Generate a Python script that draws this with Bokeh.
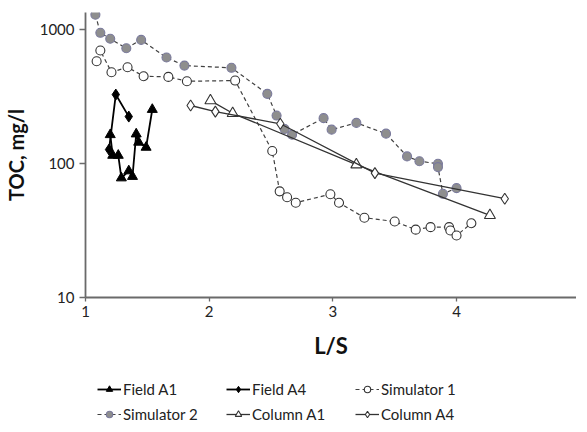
from bokeh.plotting import figure
from bokeh.models import (Range1d, FixedTicker, NumeralTickFormatter, Legend,
                          LegendItem)
from bokeh.layouts import column
from bokeh.embed import file_html
from bokeh.resources import INLINE

# ---- data ----
field_a1_x = [1.20, 1.22, 1.265, 1.29, 1.35, 1.38, 1.41, 1.43, 1.49, 1.54]
field_a1_y = [164, 115, 115, 78, 88, 80, 166, 144, 132, 253]

field_a4_x = [1.19, 1.245, 1.35]
field_a4_y = [127, 327, 224]

sim1_x = [1.09, 1.12, 1.21, 1.34, 1.47, 1.67, 1.82, 2.21, 2.51, 2.57, 2.63,
          2.70, 2.98, 3.05, 3.255, 3.50, 3.67, 3.79, 3.94, 3.95, 4.00, 4.12]
sim1_y = [580, 697, 480, 523, 448, 443, 411, 416, 124, 62, 56,
          51, 59, 51, 39.4, 36.9, 32.1, 33.5, 33.5, 31.6, 29, 35.8]

sim2_x = [1.08, 1.12, 1.20, 1.33, 1.45, 1.655, 1.80, 2.18, 2.47, 2.545, 2.61,
          2.67, 2.925, 2.99, 3.19, 3.43, 3.60, 3.70, 3.85, 3.85, 3.89, 4.00]
sim2_y = [1290, 945, 853, 725, 837, 618, 538, 518, 331, 228, 181,
          164, 218, 179, 201, 167, 113, 104, 99.5, 94, 59.4, 65.5]

col_a1_x = [2.01, 2.19, 3.19, 4.27]
col_a1_y = [295, 237, 98, 41]

col_a4_x = [1.85, 2.05, 2.575, 3.34, 4.39]
col_a4_y = [271, 244, 198, 84.7, 54.6]

x_ticks = [1, 2, 3, 4, 5]
y_ticks = [10, 100, 1000]

FONT = "Lato"
DASH = "4 3"

# name, x, y, line style, marker style (drawing order)
SERIES = [
    ("Simulator 1", sim1_x, sim1_y,
     dict(line_color="#404040", line_width=1.2, line_dash=DASH),
     dict(marker="circle", size=9, fill_color="white", line_color="#333333", line_width=1.1)),
    ("Simulator 2", sim2_x, sim2_y,
     dict(line_color="#404040", line_width=1.2, line_dash=DASH),
     dict(marker="circle", size=9, fill_color="#8e8e8e", line_color="#7a7a9c", line_width=1.1)),
    ("Column A1", col_a1_x, col_a1_y,
     dict(line_color="#333333", line_width=1.3),
     dict(marker="triangle", size=11, fill_color="white", line_color="#333333", line_width=1.1)),
    ("Column A4", col_a4_x, col_a4_y,
     dict(line_color="#333333", line_width=1.3),
     dict(marker="diamond", size=11, fill_color="white", line_color="#333333", line_width=1.1)),
    ("Field A4", field_a4_x, field_a4_y,
     dict(line_color="black", line_width=1.8),
     dict(marker="diamond", size=11, fill_color="black", line_color="black")),
    ("Field A1", field_a1_x, field_a1_y,
     dict(line_color="black", line_width=1.8),
     dict(marker="triangle", size=10, fill_color="black", line_color="black")),
]
LEGEND_ORDER = ["Field A1", "Field A4", "Simulator 1",
                "Simulator 2", "Column A1", "Column A4"]

# ---------------- main chart ----------------
p = figure(frame_width=491, frame_height=285, output_backend="svg",
           toolbar_location=None,
           y_axis_type="log", x_range=Range1d(1, 4.97), y_range=Range1d(10, 1340),
           min_border_left=80, min_border_right=0, min_border_top=12,
           min_border_bottom=0)
p.outline_line_color = None
p.grid.visible = False

for ax in (p.xaxis[0], p.yaxis[0]):
    ax.axis_line_color = "#6a6a6a"
    ax.axis_line_width = 1.8
    ax.major_tick_line_color = "#6a6a6a"
    ax.major_tick_line_width = 1.3
    ax.minor_tick_line_color = None
    ax.major_tick_in = 0
    ax.major_label_text_font = FONT
    ax.major_label_text_font_size = "15px"
    ax.major_label_text_color = "#222222"
    ax.axis_label_text_font = FONT
    ax.axis_label_text_font_style = "bold"
    ax.axis_label_text_color = "#111111"

p.xaxis.ticker = FixedTicker(ticks=x_ticks)
p.xaxis.major_tick_out = 4
p.xaxis.major_label_standoff = 4
p.xaxis.axis_label = "L/S"
p.xaxis.axis_label_text_font_size = "22px"
p.xaxis.axis_label_standoff = 12

p.yaxis.ticker = FixedTicker(ticks=y_ticks, minor_ticks=[])
p.yaxis.formatter = NumeralTickFormatter(format="0")
p.yaxis.major_tick_out = 6
p.yaxis.major_label_standoff = 5
p.yaxis.axis_label = "TOC, mg/l"
p.yaxis.axis_label_text_font_size = "20px"
p.yaxis.axis_label_standoff = 9

for name, xs, ys, lkw, mkw in SERIES:
    p.line(xs, ys, **lkw)
    p.scatter(xs, ys, **mkw)

# ---------------- legend strip ----------------
lf = figure(width=571, height=62, output_backend="svg", toolbar_location=None,
            x_axis_location=None, y_axis_location=None,
            x_range=Range1d(100, 101), y_range=Range1d(-20, -10),
            min_border=0)
lf.outline_line_color = None
lf.grid.visible = False

rends = {}
for name, xs, ys, lkw, mkw in SERIES:
    rends[name] = [lf.line(xs, ys, **lkw), lf.scatter(xs, ys, **mkw)]

legend = Legend(items=[LegendItem(label=n, renderers=rends[n]) for n in LEGEND_ORDER],
                orientation="horizontal", ncols=3,
                label_text_font=FONT, label_text_font_size="15px",
                label_text_color="#222222",
                glyph_width=24, glyph_height=16, label_height=16,
                label_standoff=2, label_width=96, spacing=7, padding=0,
                margin=0, border_line_color=None, background_fill_alpha=0,
                location=(12, 0))
lf.add_layout(legend, "center")

layout = column(p, lf, spacing=0)
open("out.html", "w").write(file_html(layout, INLINE))
